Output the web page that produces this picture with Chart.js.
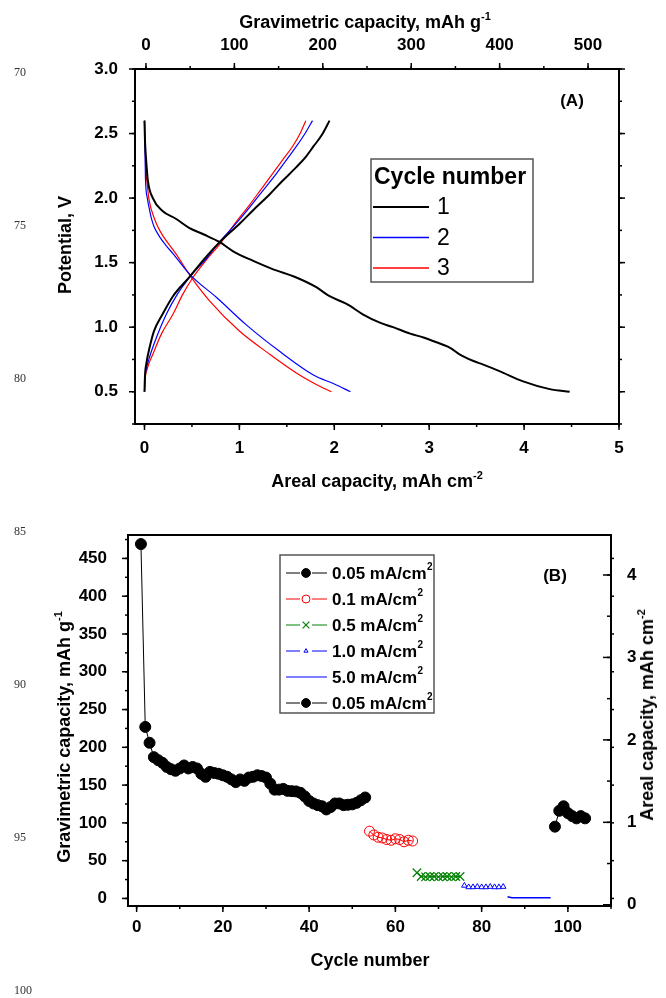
<!DOCTYPE html>
<html>
<head>
<meta charset="utf-8">
<script src="https://cdn.jsdelivr.net/npm/chart.js@4.4.1/dist/chart.umd.min.js"></script>
<style>
    html, body { margin: 0; padding: 0; background: #fff; }
    body { width: 666px; height: 998px; position: relative; overflow: hidden; font-family: "Liberation Sans", Arial, sans-serif; }
    canvas { position: absolute; left: 0; }
    #chartA { top: 0; }
    #chartB { top: 500px; }
    .lbl { position: absolute; font-weight: bold; font-size: 18px; line-height: 1; white-space: nowrap; color: #000; transform: translate(-50%, -50%); }
    .rot { transform: translate(-50%, -50%) rotate(-90deg); }
    .lbl sup { font-size: 11px; vertical-align: baseline; position: relative; top: -8px; }
    .tag { font-size: 17px; }
    .ln { position: absolute; left: 14px; font-family: "Liberation Serif", serif; font-size: 12px; color: #333; transform: translateY(-50%); }
</style>
</head>
<body>
<canvas id="chartA" width="666" height="500"></canvas>
<canvas id="chartB" width="666" height="498"></canvas>

<div class="lbl" style="left:365px;top:22px">Gravimetric capacity, mAh g<sup>-1</sup></div>
<div class="lbl rot" style="left:65px;top:245px">Potential, V</div>
<div class="lbl" style="left:377px;top:481px">Areal capacity, mAh cm<sup>-2</sup></div>
<div class="lbl tag" style="left:572px;top:100px">(A)</div>

<div class="lbl rot" style="left:64px;top:737px">Gravimetric capacity, mAh g<sup>-1</sup></div>
<div class="lbl rot" style="left:647px;top:715px">Areal capacity, mAh cm<sup>-2</sup></div>
<div class="lbl" style="left:370px;top:960px">Cycle number</div>
<div class="lbl tag" style="left:555px;top:575px">(B)</div>

<div id="lineNumbers"></div>

<script>
"use strict";

// ---- manuscript line numbers down the margin ----
const lineNumbers = [70, 75, 80, 85, 90, 95, 100];
const lineNumberY = [72, 225, 378, 531, 684, 837, 990];

// ---- panel A: voltage profiles (areal capacity mAh cm-2 vs potential V) ----
const cyc1DischargeCap = [0, 0.005, 0.015, 0.035, 0.088, 0.19, 0.33, 0.47, 0.62, 0.79, 0.93, 1.14, 1.35, 1.6, 1.81, 1.95, 2.13, 2.3, 2.48, 2.62, 2.8, 2.94, 3.04, 3.22, 3.32, 3.46, 3.57, 3.74, 3.99, 4.27, 4.48];
const cyc1DischargeV   = [2.6, 2.45, 2.32, 2.14, 2.0, 1.9, 1.84, 1.77, 1.72, 1.66, 1.59, 1.515, 1.45, 1.385, 1.31, 1.24, 1.18, 1.10, 1.035, 1.0, 0.95, 0.92, 0.893, 0.84, 0.79, 0.74, 0.71, 0.66, 0.58, 0.52, 0.5];
const cyc1ChargeCap = [0, 0.005, 0.02, 0.053, 0.1, 0.19, 0.3, 0.47, 0.62, 0.79, 1.0, 1.15, 1.32, 1.45, 1.6, 1.7, 1.78, 1.87, 1.95];
const cyc1ChargeV   = [0.5, 0.62, 0.72, 0.84, 0.97, 1.10, 1.24, 1.385, 1.52, 1.657, 1.80, 1.91, 2.03, 2.13, 2.24, 2.32, 2.40, 2.49, 2.6];

const cyc2DischargeCap = [0, 0.005, 0.01, 0.03, 0.05, 0.07, 0.1, 0.16, 0.23, 0.3, 0.49, 0.76, 1.07, 1.42, 1.78, 2.0, 2.17];
const cyc2DischargeV   = [2.6, 2.4, 2.16, 2.0, 1.92, 1.85, 1.78, 1.70, 1.63, 1.57, 1.40, 1.23, 1.02, 0.815, 0.63, 0.56, 0.5];
const cyc2ChargeCap = [0, 0.005, 0.02, 0.05, 0.1, 0.23, 0.35, 0.49, 0.65, 0.79, 0.95, 1.11, 1.25, 1.39, 1.5, 1.6, 1.7, 1.77];
const cyc2ChargeV   = [0.5, 0.6, 0.68, 0.76, 0.87, 1.10, 1.26, 1.40, 1.53, 1.66, 1.79, 1.93, 2.06, 2.19, 2.30, 2.40, 2.51, 2.6];

const cyc3DischargeCap = [0, 0.005, 0.01, 0.03, 0.05, 0.1, 0.16, 0.33, 0.49, 0.69, 1.0, 1.32, 1.6, 1.8, 1.97];
const cyc3DischargeV   = [2.6, 2.45, 2.29, 2.1, 1.98, 1.85, 1.75, 1.57, 1.39, 1.20, 0.97, 0.79, 0.645, 0.56, 0.5];
const cyc3ChargeCap = [0, 0.005, 0.03, 0.088, 0.18, 0.3, 0.4, 0.51, 0.65, 0.79, 0.95, 1.11, 1.23, 1.35, 1.46, 1.56, 1.64, 1.70];
const cyc3ChargeV   = [0.5, 0.58, 0.68, 0.79, 0.95, 1.10, 1.25, 1.385, 1.52, 1.64, 1.80, 1.95, 2.07, 2.19, 2.30, 2.40, 2.50, 2.6];

const cycleLabelsA = ['1', '2', '3'];
const potentialTicks = [0.5, 1.0, 1.5, 2.0, 2.5, 3.0];
const arealTicksA = [0, 1, 2, 3, 4, 5];
const gravTicksA = [0, 100, 200, 300, 400, 500];

// ---- panel B: rate capability (cycle number vs gravimetric capacity mAh g-1) ----
const cycles005a = [1, 2, 3, 4, 5, 6, 7, 8, 9, 10, 11, 12, 13, 14, 15, 16, 17, 18, 19, 20, 21, 22, 23, 24, 25, 26, 27, 28, 29, 30, 31, 32, 33, 34, 35, 36, 37, 38, 39, 40, 41, 42, 43, 44, 45, 46, 47, 48, 49, 50, 51, 52, 53];
const grav005a = [469, 227, 206, 187, 183, 179.5, 174, 171, 169, 172, 176, 172, 174, 172, 165, 161, 167.5, 166, 165, 163, 161, 157.5, 154, 157.5, 155.6, 160, 161, 163, 162, 160, 152, 144, 144, 145, 142.4, 142, 141.6, 139.8, 135, 129, 125.7, 123.5, 122, 117.8, 121, 125.7, 125.7, 123.5, 124, 124.5, 126.5, 130, 133.6];
const cycles01 = [54, 55, 56, 57, 58, 59, 60, 61, 62, 63, 64];
const grav01 = [89, 84, 81, 80, 78, 77, 79, 78, 75, 77, 76];
const cycles05 = [65, 66, 67, 68, 69, 70, 71, 72, 73, 74, 75];
const grav05 = [34, 29, 28.5, 29, 29, 28.5, 29, 29, 28.5, 29, 29];
const cycles10 = [76, 77, 78, 79, 80, 81, 82, 83, 84, 85];
const grav10 = [17, 15, 15, 15.5, 15, 15, 15.5, 15, 15, 15.5];
const cycles50 = [86, 87, 88, 89, 90, 91, 92, 93, 94, 95, 96];
const grav50 = [2.2, 0.8, 0.8, 0.8, 0.8, 0.8, 0.8, 0.8, 0.8, 0.8, 0.8];
const cycles005b = [97, 98, 99, 100, 101, 102, 103, 104];
const grav005b = [95, 116, 122, 113, 109, 106, 109, 106];

const rateLabels = ['0.05 mA/cm', '0.1 mA/cm', '0.5 mA/cm', '1.0 mA/cm', '5.0 mA/cm', '0.05 mA/cm'];
const cycleTicks = [0, 20, 40, 60, 80, 100];
const gravTicksB = [0, 50, 100, 150, 200, 250, 300, 350, 400, 450];
const arealTicksB = [0, 1, 2, 3, 4];


const FONT = '"Liberation Sans", Arial, sans-serif';
const tickFont = {family: FONT, size: 17, weight: 'bold'};

for (let i = 0; i < lineNumbers.length; i++) {
    const d = document.createElement('div');
    d.className = 'ln';
    d.style.top = lineNumberY[i] + 'px';
    d.textContent = lineNumbers[i];
    document.getElementById('lineNumbers').appendChild(d);
}

const pts = (xs, ys) => xs.map((x, i) => ({x: x, y: ys[i]}));
const fixedTicks = (values) => (scale) => { scale.ticks = values.map(v => ({value: v})); };

// one axis box: border only, labels optional, tick marks come from the tickMarks plugin
function axis(position, min, max, values, padding, size, fmt) {
    return {
        type: 'linear', position: position, min: min, max: max,
        afterBuildTicks: fixedTicks(values),
        afterFit: (s) => { if (s.isHorizontal()) s.height = size; else s.width = size; },
        grid: {display: false},
        border: {display: true, color: '#000', width: 2},
        ticks: {
            display: padding !== null, padding: padding || 0, color: '#000', font: tickFont,
            callback: fmt || ((v) => String(v))
        }
    };
}

// major / minor tick marks drawn against the chart area through each scale
const tickMarks = {
    id: 'tickMarks',
    afterDraw(chart, args, opts) {
        const ctx = chart.ctx, area = chart.chartArea;
        ctx.save();
        ctx.strokeStyle = '#000';
        ctx.lineWidth = 1.5;
        for (const t of opts.marks || []) {
            const s = chart.scales[t.scale];
            const sign = t.dir === 'in' ? -1 : 1;
            const first = Math.ceil(s.min / t.step - 1e-6);
            for (let k = first; k * t.step <= s.max + 1e-6; k++) {
                const p = s.getPixelForValue(k * t.step);
                ctx.beginPath();
                if (t.edge === 'left') { ctx.moveTo(area.left, p); ctx.lineTo(area.left - sign * t.len, p); }
                else if (t.edge === 'right') { ctx.moveTo(area.right, p); ctx.lineTo(area.right + sign * t.len, p); }
                else if (t.edge === 'top') { ctx.moveTo(p, area.top); ctx.lineTo(p, area.top - sign * t.len); }
                else { ctx.moveTo(p, area.bottom); ctx.lineTo(p, area.bottom + sign * t.len); }
                ctx.stroke();
            }
        }
        ctx.restore();
    }
};

// ---------------- panel A ----------------
const cyclesA = [
    {label: cycleLabelsA[0], color: '#000000', width: 2, d: pts(cyc1DischargeCap, cyc1DischargeV), c: pts(cyc1ChargeCap, cyc1ChargeV)},
    {label: cycleLabelsA[1], color: '#0000ff', width: 1.2, d: pts(cyc2DischargeCap, cyc2DischargeV), c: pts(cyc2ChargeCap, cyc2ChargeV)},
    {label: cycleLabelsA[2], color: '#ff0000', width: 1.2, d: pts(cyc3DischargeCap, cyc3DischargeV), c: pts(cyc3ChargeCap, cyc3ChargeV)}
];

const datasetsA = [];
for (const c of cyclesA) {
    for (const part of [c.d, c.c]) {
        datasetsA.push({
            label: c.label, data: part, borderColor: c.color, borderWidth: c.width,
            pointRadius: 0, cubicInterpolationMode: 'monotone', fill: false
        });
    }
}

const legendA = {
    id: 'legendA',
    afterDraw(chart) {
        const ctx = chart.ctx;
        ctx.save();
        ctx.strokeStyle = '#555';
        ctx.lineWidth = 1.5;
        ctx.strokeRect(371, 159, 162, 123);
        ctx.fillStyle = '#000';
        ctx.font = 'bold 23px ' + FONT;
        ctx.textBaseline = 'alphabetic';
        ctx.fillText('Cycle number', 374, 184);
        ctx.font = '23px ' + FONT;
        ctx.textBaseline = 'middle';
        cyclesA.forEach((c, i) => {
            const y = 207 + i * 30.5;
            ctx.strokeStyle = c.color;
            ctx.lineWidth = Math.max(c.width, 1.6);
            ctx.beginPath(); ctx.moveTo(373, y); ctx.lineTo(429, y); ctx.stroke();
            ctx.fillText(c.label, 437, y + 1);
        });
        ctx.restore();
    }
};

new Chart(document.getElementById('chartA'), {
    type: 'line',
    data: {datasets: datasetsA},
    options: {
        responsive: false, animation: false, devicePixelRatio: 1,
        layout: {padding: 0},
        plugins: {
            legend: {display: false}, tooltip: {enabled: false},
            tickMarks: {marks: [
                {scale: 'x', edge: 'bottom', step: 1, len: 6}, {scale: 'x', edge: 'bottom', step: 0.5, len: 3},
                {scale: 'xTop', edge: 'top', step: 100, len: 6}, {scale: 'xTop', edge: 'top', step: 50, len: 3},
                {scale: 'y', edge: 'left', step: 0.5, len: 6}, {scale: 'y', edge: 'left', step: 0.25, len: 3},
                {scale: 'y', edge: 'right', step: 0.5, len: 6}, {scale: 'y', edge: 'right', step: 0.25, len: 3}
            ]}
        },
        scales: {
            x: axis('bottom', -0.1, 5, arealTicksA, 6, 76),
            xTop: axis('top', -12.4, 535, gravTicksA, 5, 69),
            y: axis('left', 0.25, 3.0, potentialTicks, 9, 135, (v) => v.toFixed(1)),
            yR: axis('right', 0.25, 3.0, potentialTicks, null, 47)
        }
    },
    plugins: [tickMarks, legendA]
});

// ---------------- panel B ----------------
const datasetsB = [
    {label: rateLabels[0], data: pts(cycles005a, grav005a), borderColor: '#000000', borderWidth: 1,
        pointStyle: 'circle', pointRadius: 5.5, pointBackgroundColor: '#000000', pointBorderColor: '#000000'},
    {label: rateLabels[1], data: pts(cycles01, grav01), borderColor: '#ff0000', borderWidth: 1,
        pointStyle: 'circle', pointRadius: 5, pointBackgroundColor: 'rgba(255,255,255,0)', pointBorderColor: '#ff0000'},
    {label: rateLabels[2], data: pts(cycles05, grav05), borderColor: '#008000', borderWidth: 1,
        pointStyle: 'crossRot', pointRadius: 6, pointBorderWidth: 1.2, pointBorderColor: '#008000'},
    {label: rateLabels[3], data: pts(cycles10, grav10), borderColor: '#0000ff', borderWidth: 1, borderDash: [4, 3],
        pointStyle: 'triangle', pointRadius: 3.2, pointBackgroundColor: '#ffffff', pointBorderColor: '#0000ff'},
    {label: rateLabels[4], data: pts(cycles50, grav50), borderColor: '#0000ff', borderWidth: 1.5, pointRadius: 0},
    {label: rateLabels[5], data: pts(cycles005b, grav005b), borderColor: '#000000', borderWidth: 1,
        pointStyle: 'circle', pointRadius: 5.5, pointBackgroundColor: '#000000', pointBorderColor: '#000000'}
];

const legendB = {
    id: 'legendB',
    afterDraw(chart) {
        const ctx = chart.ctx;
        ctx.save();
        ctx.strokeStyle = '#555';
        ctx.lineWidth = 1.5;
        ctx.strokeRect(280, 55, 154, 158);
        chart.data.datasets.forEach((ds, i) => {
            const y = 73 + i * 26;
            const hasMarker = ds.pointRadius > 0;
            ctx.strokeStyle = ds.borderColor;
            ctx.lineWidth = 1;
            ctx.setLineDash([]);
            ctx.beginPath();
            if (hasMarker) {
                ctx.moveTo(286, y); ctx.lineTo(300, y);
                ctx.moveTo(312, y); ctx.lineTo(327, y);
            } else {
                ctx.moveTo(286, y); ctx.lineTo(327, y);
            }
            ctx.stroke();
            if (hasMarker) {
                ctx.fillStyle = ds.pointBackgroundColor || 'rgba(0,0,0,0)';
                ctx.strokeStyle = ds.pointBorderColor || ds.borderColor;
                ctx.lineWidth = ds.pointBorderWidth || 1;
                const r = ds.pointStyle === 'triangle' ? 2.4 : ds.pointRadius * 0.8;
                Chart.helpers.drawPoint(ctx, {pointStyle: ds.pointStyle, radius: r, rotation: 0, borderWidth: ctx.lineWidth}, 306, y);
            }
            ctx.fillStyle = '#000';
            ctx.textBaseline = 'middle';
            ctx.font = 'bold 17px ' + FONT;
            ctx.fillText(ds.label, 332, y + 1);
            const w = ctx.measureText(ds.label).width;
            ctx.font = 'bold 10px ' + FONT;
            ctx.fillText('2', 332 + w + 0.5, y - 6);
        });
        ctx.restore();
    }
};

new Chart(document.getElementById('chartB'), {
    type: 'line',
    data: {datasets: datasetsB},
    options: {
        responsive: false, animation: false, devicePixelRatio: 1,
        layout: {padding: 0},
        elements: {line: {tension: 0}},
        plugins: {
            legend: {display: false}, tooltip: {enabled: false},
            tickMarks: {marks: [
                {scale: 'x', edge: 'bottom', step: 20, len: 6}, {scale: 'x', edge: 'bottom', step: 10, len: 3},
                {scale: 'y', edge: 'left', step: 50, len: 6}, {scale: 'y', edge: 'left', step: 25, len: 3},
                {scale: 'y', edge: 'right', step: 50, len: 3},
                {scale: 'yR', edge: 'right', step: 1, len: 8, dir: 'in'}, {scale: 'yR', edge: 'right', step: 0.5, len: 4, dir: 'in'}
            ]}
        },
        scales: {
            x: axis('bottom', -2, 110, cycleTicks, 3, 92),
            xTop: axis('top', -2, 110, [], null, 35),
            y: axis('left', -10, 481, gravTicksB, 13, 128),
            yR: axis('right', -0.015, 4.485, arealTicksB, 8, 55)
        }
    },
    plugins: [tickMarks, legendB]
});
</script>
</body>
</html>
